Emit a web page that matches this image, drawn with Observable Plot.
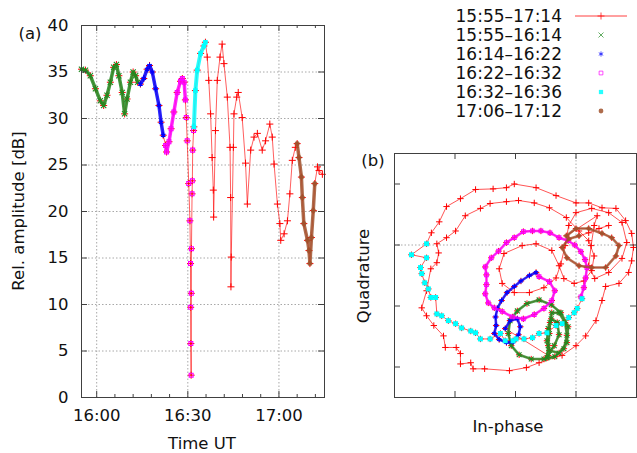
<!DOCTYPE html>
<html><head><meta charset="utf-8">
<script src="https://cdn.jsdelivr.net/npm/d3@7"></script>
<script src="https://cdn.jsdelivr.net/npm/@observablehq/plot@0.6"></script>
<style>
body{margin:0;background:#fff;}
#fig{position:relative;width:637px;height:453px;font-family:"DejaVu Sans",sans-serif;overflow:hidden;background:#fff}
#fig > svg{position:absolute}
</style></head><body><div id="fig"></div>
<script>
// ---------- DATA ----------
// Panel (a): time in minutes after 16:00 UT, relative amplitude in dB
const ampTime = [-5.0,-3.7,-2.1,-0.4,1.2,2.3,3.4,4.5,5.6,6.5,7.3,8.4,9.2,10.0,11.1,12.0,12.8,13.5,
  14.4,15.5,16.6,17.4,18.3,19.4,20.5,21.2,21.9,
  22.7,23.0,23.8,24.5,25.4,26.5,27.6,28.2,28.8,29.2,29.5,29.8,30.3,30.7,30.9,30.95,31.0,31.1,31.15,31.2,31.4,31.5,31.6,31.9,
  32.0,32.5,33.1,34.2,35.3,35.8,
  36.4,36.9,37.5,38.0,38.4,38.5,39.1,39.7,40.6,41.3,41.9,43.0,43.9,44.1,44.2,44.3,45.0,45.2,46.1,46.6,47.9,49.0,49.6,
  50.7,51.8,52.9,54.5,55.6,57.0,57.8,58.4,59.5,60.3,60.6,61.7,62.8,63.6,64.4,65.4,
  66.0,66.6,67.4,67.7,68.2,69.4,69.9,70.2,70.7,71.3,71.8,
  72.7,73.2,74.3];
const ampDb = [35.3,35.2,34.6,33.2,31.9,31.4,32.5,33.9,35.5,35.8,34.6,32.8,30.5,32.1,33.9,35.0,34.6,33.9,
  33.7,34.3,35.3,35.7,35.0,33.2,31.4,29.6,28.2,
  27.1,26.4,27.5,28.9,30.7,32.8,34.0,34.3,33.9,32.0,30.1,27.6,23.0,19.0,14.4,9.7,5.8,2.4,11.2,16.0,21.9,23.3,26.6,28.7,
  29.1,33.0,35.2,37.0,37.8,38.2,
  36.6,34.1,30.5,25.8,22.3,19.4,28.7,34.1,36.6,38.0,35.9,32.3,26.9,21.5,11.9,15.1,26.9,30.5,32.3,32.8,30.1,25.2,20.8,
  26.6,28.0,28.4,26.6,27.6,29.4,28.0,25.1,20.8,18.7,16.9,17.6,19.0,21.9,25.5,26.9,
  27.3,25.8,23.7,21.5,18.7,16.9,15.8,14.4,17.2,20.1,23.0,
  24.8,24.4,24.0];

// Legend periods (minutes after 16:00)
const periodLabels = ["15:55–17:14","15:55–16:14","16:14–16:22","16:22–16:32","16:32–16:36","17:06–17:12"];
const periodStart = [-5, -5, 14, 22, 32, 66];
const periodEnd   = [75, 14, 22, 32, 36, 72];

// Axis ticks
const xMajor = [0, 30, 60];
const xTickLabels = ["16:00", "16:30", "17:00"];
const xMinor = [6, 12, 18, 24, 36, 42, 48, 54, 66, 72];
const yTicks = [0, 5, 10, 15, 20, 25, 30, 35, 40];
const iqXTicks = [-2, -1, 0];
const iqYTicks = [-2, -1, 0, 1];

// Panel (b): [in-phase, quadrature] per period
const iqGreen = [[-0.48,-1.85],[-0.46,-1.65],[-0.44,-1.45],[-0.43,-1.27],[-0.40,-1.11],[-0.28,-1.11],[-0.18,-1.27],[-0.15,-1.48],[-0.20,-1.70],[-0.35,-1.83],[-0.53,-1.87],[-0.74,-1.87],[-0.94,-1.80],[-1.07,-1.65],[-1.12,-1.45],[-1.09,-1.24],[-0.97,-1.08],[-0.81,-0.96],[-0.61,-0.90],[-0.41,-0.98],[-0.25,-1.11],[-0.13,-1.34],[-0.15,-1.60],[-0.28,-1.77],[-0.44,-1.73],[-0.48,-1.57],[-0.46,-1.37],[-0.41,-1.21],[-0.31,-1.27],[-0.28,-1.47],[-0.36,-1.65],[-0.46,-1.81]];
const iqBlue = [[-1.17,-1.37],[-1.09,-1.24],[-0.97,-1.21],[-0.92,-1.34],[-0.95,-1.47],[-1.04,-1.59],[-1.15,-1.60],[-1.27,-1.55],[-1.35,-1.45],[-1.32,-1.32],[-1.33,-1.18],[-1.30,-1.04],[-1.23,-0.91],[-1.14,-0.78],[-1.02,-0.68],[-0.91,-0.59],[-0.77,-0.50],[-0.66,-0.45]];
const iqMagenta = [[-0.61,-0.52],[-0.44,-0.60],[-0.35,-0.75],[-0.40,-0.91],[-0.53,-1.04],[-0.69,-1.14],[-0.87,-1.21],[-1.05,-1.18],[-1.22,-1.09],[-1.35,-1.03],[-1.45,-0.95],[-1.50,-0.80],[-1.48,-0.65],[-1.48,-0.49],[-1.50,-0.36],[-1.40,-0.21],[-1.28,-0.10],[-1.15,0.04],[-1.02,0.12],[-0.87,0.22],[-0.72,0.23],[-0.58,0.23],[-0.43,0.20],[-0.28,0.12],[-0.13,0.07],[-0.02,0.00],[0.08,-0.11],[0.15,-0.24],[0.18,-0.37],[0.16,-0.54],[0.13,-0.70],[0.08,-0.85]];
const iqCyan = [[0.10,-0.88],[0.02,-1.04],[-0.03,-1.11],[-0.12,-1.19],[-0.23,-1.29],[-0.33,-1.32],[-0.48,-1.44],[-0.61,-1.45],[-0.72,-1.52],[-0.86,-1.54],[-0.99,-1.54],[-1.04,-1.57],[-1.17,-1.57],[-1.25,-1.45],[-1.42,-1.54],[-1.58,-1.54],[-1.66,-1.44],[-1.74,-1.41],[-1.89,-1.36],[-1.99,-1.29],[-2.11,-1.24],[-2.22,-1.16],[-2.30,-1.13],[-2.32,-0.86],[-2.40,-0.86],[-2.44,-0.72],[-2.50,-0.62],[-2.55,-0.47],[-2.57,-0.37],[-2.47,-0.21],[-2.72,-0.16],[-2.47,0.02]];
const iqRedA = [[-2.39,0.20],[-2.26,0.38],[-2.14,0.63],[-1.91,0.76],[-1.66,0.91],[-1.37,0.92],[-1.15,0.94],[-1.02,1.00],[-0.66,0.94],[-0.33,0.81],[0.00,0.69],[0.21,0.69],[0.43,0.61],[0.66,0.60],[0.82,0.40],[0.92,0.19],[0.95,-0.04],[0.92,-0.26],[0.87,-0.45],[0.71,-0.63],[0.49,-0.68],[0.43,-0.91],[0.33,-1.24],[0.16,-1.49],[0.00,-1.65],[-0.23,-1.81],[-0.61,-1.93],[-0.82,-2.01],[-1.10,-2.06],[-1.51,-2.03],[-1.70,-2.03],[-1.74,-1.93],[-1.91,-1.95],[-1.91,-1.78],[-1.98,-1.68],[-2.16,-1.68],[-2.19,-1.49],[-2.35,-1.32],[-2.47,-1.16],[-2.55,-1.03],[-2.47,-0.75],[-2.40,-0.39],[-2.30,-0.29],[-2.27,-0.13],[-2.30,0.02],[-2.14,0.12],[-1.99,0.23],[-1.83,0.48],[-1.58,0.60],[-1.42,0.68],[-1.15,0.71],[-0.95,0.73],[-0.69,0.69],[-0.44,0.61],[-0.16,0.45],[0.05,0.23],[0.21,0.07],[0.30,-0.18],[0.26,-0.42],[0.13,-0.59],[-0.03,-0.63],[-0.20,-0.55],[-0.28,-0.34],[-0.40,-0.09],[-0.66,0.02],[-0.89,-0.01],[-1.19,-0.14],[-1.27,-0.39],[-1.22,-0.63],[-1.02,-0.78],[-0.77,-0.78],[-0.53,-0.70],[-0.33,-0.54],[-0.25,-0.31],[-0.18,-0.01],[-0.12,0.32],[0.00,0.53],[0.26,0.60],[0.54,0.53],[0.76,0.37],[0.84,0.04],[0.76,-0.22],[0.54,-0.45],[0.31,-0.55],[0.21,-0.34],[0.25,-0.01],[0.30,0.32],[0.35,0.48]];
const iqBrown = [[-0.16,0.15],[0.00,0.27],[0.21,0.27],[0.43,0.19],[0.59,0.12],[0.71,-0.01],[0.66,-0.18],[0.49,-0.37],[0.26,-0.37],[0.05,-0.34],[-0.15,-0.21],[-0.23,-0.04],[-0.12,0.10],[0.05,0.15]];
const iqRedB = [[0.21,0.20],[0.38,0.27],[0.54,0.32]];

// ---------- STYLE ----------
const colors = ["#ff0000", "#1f8a1f", "#0000ff", "#ff00ff", "#00ffff", "#a0522d"];
const symbols = ["plus", "times", "asterisk", "square2", "square", "circle"];
const d3symbols = [d3.symbolPlus, d3.symbolTimes, d3.symbolAsterisk, d3.symbolSquare2, d3.symbolSquare, d3.symbolCircle];
const FONT = "DejaVu Sans";
const gridStyle = {stroke: "#a8a8a8", strokeDasharray: "1.5,2", strokeWidth: 1};
const frameColor = "#404040";

// ---------- BUILD ----------
const fig = d3.select("#fig");
const amp = ampTime.map((t, k) => ({t, db: ampDb[k]}));
const sub = k => amp.filter(d => d.t >= periodStart[k] && d.t < periodEnd[k]);

function symbolMarks(data, k, x, y, r) {
  const filled = symbols[k] === "square" || symbols[k] === "circle";
  return Plot.dot(data, {x, y, symbol: symbols[k], r,
    stroke: filled ? "none" : colors[k], fill: filled ? colors[k] : "none",
    fillOpacity: k === 5 ? 0.85 : 1, strokeWidth: 1.1});
}

// Panel (a)
const L = {w: 335, h: 453, ml: 81, mr: 11, mt: 25, mb: 56};
const pw = L.w - L.ml - L.mr, ph = L.h - L.mt - L.mb;
const leftMarks = [
  Plot.ruleX(xMajor, gridStyle),
  Plot.ruleY(yTicks.filter(v => v > 0 && v < 40), gridStyle),
  Plot.line(amp, {x: "t", y: "db", stroke: colors[0], strokeWidth: 0.9, strokeOpacity: 0.7}),
  Plot.dot(amp, {x: "t", y: "db", symbol: "plus", r: 2.4, stroke: colors[0], strokeWidth: 1})
];
for (let k = 1; k < 6; k++) {
  let band = sub(k);
  if (k === 3) band = band.filter(d => d.t < 29.3);
  leftMarks.push(Plot.line(band, {x: "t", y: "db", stroke: colors[k], strokeWidth: k === 4 ? 4 : 3.5, strokeOpacity: 0.85}));
  leftMarks.push(symbolMarks(sub(k), k, "t", "db", k === 4 ? 2.6 : 2.5));
}
leftMarks.push(
  Plot.tickY(yTicks, {stroke: frameColor, insetRight: pw - 6}),
  Plot.tickY(yTicks, {stroke: frameColor, insetLeft: pw - 6}),
  Plot.tickX(xMajor, {stroke: frameColor, insetTop: ph - 6}),
  Plot.tickX(xMajor, {stroke: frameColor, insetBottom: ph - 6}),
  Plot.tickX(xMinor, {stroke: frameColor, insetTop: ph - 3}),
  Plot.tickX(xMinor, {stroke: frameColor, insetBottom: ph - 3}),
  Plot.frame({stroke: frameColor}),
  Plot.axisY(yTicks, {tickSize: 0, tickPadding: 13, fontSize: 16.5, fill: "#111", label: null}),
  Plot.axisX(xMajor, {tickSize: 0, tickPadding: 12, fontSize: 16.5, fill: "#111", label: null,
    tickFormat: d => xTickLabels[xMajor.indexOf(d)]})
);
const leftSvg = Plot.plot({
  width: L.w, height: L.h, marginLeft: L.ml, marginRight: L.mr, marginTop: L.mt, marginBottom: L.mb,
  x: {domain: [-5, 75], label: null}, y: {domain: [0, 40], label: null},
  style: {fontFamily: FONT, background: "transparent", overflow: "visible"},
  marks: leftMarks
});
leftSvg.style.left = "0px"; leftSvg.style.top = "0px";
fig.node().appendChild(leftSvg);

// Panel (b)
const R = {w: 307, h: 453, ml: 64, mr: 1, mt: 153, mb: 56};
const rw = R.w - R.ml - R.mr, rh = R.h - R.mt - R.mb;
const segs = [iqGreen, iqBlue, iqMagenta, iqCyan, iqRedA, iqBrown, iqRedB];
const trace = segs.flat().map(([i, q]) => ({i, q}));
const seg = arr => arr.map(([i, q]) => ({i, q}));
const subsetIQ = [null, iqGreen, iqBlue, iqMagenta, iqCyan, iqBrown];
const rightMarks = [
  Plot.ruleX([0], gridStyle),
  Plot.ruleY([0], gridStyle),
  Plot.line(trace, {x: "i", y: "q", stroke: colors[0], strokeWidth: 0.9, strokeOpacity: 0.75}),
  Plot.dot(trace, {x: "i", y: "q", symbol: "plus", r: 2.2, stroke: colors[0], strokeWidth: 1})
];
for (let k = 1; k < 6; k++) {
  const d = seg(subsetIQ[k]);
  if (k !== 4) rightMarks.push(Plot.line(d, {x: "i", y: "q", stroke: colors[k], strokeWidth: 2.6, strokeOpacity: 0.8}));
  rightMarks.push(symbolMarks(d, k, "i", "q", k === 4 ? 2.8 : 2.3));
}
rightMarks.push(
  Plot.tickY(iqYTicks, {stroke: frameColor, insetRight: rw - 6}),
  Plot.tickY(iqYTicks, {stroke: frameColor, insetLeft: rw - 6}),
  Plot.tickX(iqXTicks, {stroke: frameColor, insetTop: rh - 6}),
  Plot.tickX(iqXTicks, {stroke: frameColor, insetBottom: rh - 6}),
  Plot.frame({stroke: frameColor})
);
const rightSvg = Plot.plot({
  width: R.w, height: R.h, marginLeft: R.ml, marginRight: R.mr, marginTop: R.mt, marginBottom: R.mb,
  x: {domain: [-3, 1], axis: null}, y: {domain: [-2.5, 1.5], axis: null},
  style: {fontFamily: FONT, background: "transparent", overflow: "visible"},
  marks: rightMarks
});
rightSvg.style.left = "330px"; rightSvg.style.top = "0px";
fig.node().appendChild(rightSvg);

// Legend
const lg = fig.append("svg").attr("width", 237).attr("height", 125)
  .style("left", "400px").style("top", "0px").style("font-family", FONT);
periodLabels.forEach((lab, k) => {
  const y = 16 + k * 19;
  lg.append("text").attr("x", 162).attr("y", y).attr("dy", "0.36em").attr("text-anchor", "end")
    .style("font-size", "17px").attr("fill", "#111").text(lab);
  if (k === 0) lg.append("line").attr("x1", 175).attr("x2", 227).attr("y1", y).attr("y2", y)
    .attr("stroke", colors[0]).attr("stroke-opacity", 0.75).attr("stroke-width", 1);
  const filled = symbols[k] === "square" || symbols[k] === "circle";
  lg.append("path").attr("transform", `translate(201,${y})`)
    .attr("d", d3.symbol(d3symbols[k], 18)())
    .attr("fill", filled ? colors[k] : "none").attr("stroke", filled ? "none" : colors[k])
    .attr("stroke-opacity", 0.7).attr("fill-opacity", 0.85).attr("stroke-width", 1);
});

// Titles and axis labels
const ov = fig.append("svg").attr("width", 637).attr("height", 453)
  .style("left", "0px").style("top", "0px").style("pointer-events", "none").style("font-family", FONT);
const lab = (x, y, t, rot) => ov.append("text").attr("x", x).attr("y", y).attr("dy", "0.36em")
  .attr("text-anchor", "middle").attr("fill", "#111").style("font-size", "16.5px")
  .attr("transform", rot ? `rotate(-90,${x},${y})` : null).text(t);
lab(30, 33, "(a)");
lab(18, 211, "Rel. amplitude [dB]", true);
lab(202, 443, "Time UT");
lab(373, 160, "(b)");
lab(363, 276, "Quadrature", true);
lab(508, 426, "In-phase");
</script></body></html>
